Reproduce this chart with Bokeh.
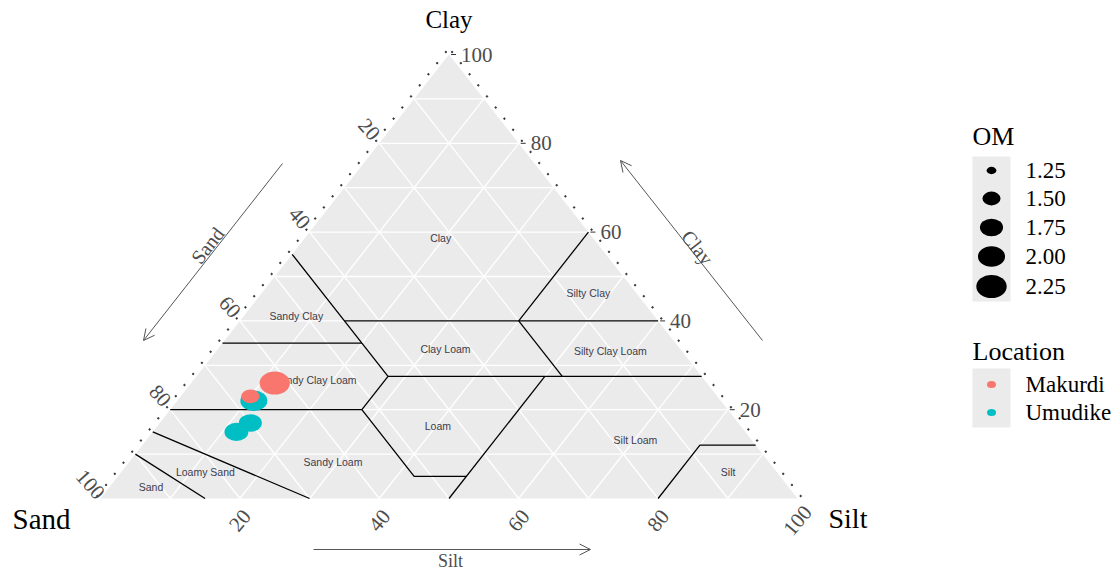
import numpy as np
from bokeh.plotting import figure
from bokeh.models import Range1d, ColumnDataSource, Arrow, OpenHead
from bokeh.core.properties import value
from bokeh.embed import file_html
from bokeh.resources import INLINE

# ---------------- data ----------------
location = ["Umudike", "Umudike", "Umudike", "Makurdi", "Makurdi"]
sand = [67, 73, 70, 62, 67]
silt = [11, 12, 13, 12, 10]
clay = [22, 15, 17, 26, 23]
om = [2.00, 1.80, 1.75, 2.25, 1.50]

om_breaks = [1.25, 1.50, 1.75, 2.00, 2.25]
om_labels = ["1.25", "1.50", "1.75", "2.00", "2.25"]
locations = ["Makurdi", "Umudike"]
loc_colors = ["#F8766D", "#00BFC4"]

axis_ticks = [20, 40, 60, 80, 100]
axis_tick_labels = ["20", "40", "60", "80", "100"]
grid_breaks = [10, 20, 30, 40, 50, 60, 70, 80, 90]

# USDA texture classes: label positions (silt, clay) in percent
class_names = ["Clay", "Silty Clay", "Sandy Clay", "Clay Loam", "Silty Clay Loam",
               "Sandy Clay Loam", "Loam", "Silt Loam", "Sandy Loam", "Loamy Sand",
               "Sand", "Silt"]
class_label_silt = [19.5, 46.9, 7.6, 32.7, 56.5, 17.4, 40.2, 70.2, 29.2, 12.1, 6.0, 87.1]
class_label_clay = [58.6, 46.2, 41.0, 33.6, 33.3, 26.8, 16.4, 13.1, 8.3, 5.9, 2.5, 5.9]

# class boundaries as (sand, silt, clay) polylines
boundaries = [
    [(45, 0, 55), (45, 15, 40), (45, 20, 35), (45, 27.5, 27.5)],
    [(45, 15, 40), (0, 60, 40)],
    [(20, 40, 40), (0, 40, 60)],
    [(20, 40, 40), (20, 52.5, 27.5)],
    [(65, 0, 35), (45, 20, 35)],
    [(45, 27.5, 27.5), (0, 72.5, 27.5)],
    [(45, 27.5, 27.5), (52.5, 27.5, 20)],
    [(80, 0, 20), (52.5, 27.5, 20)],
    [(52.5, 27.5, 20), (52.5, 42.5, 5), (45, 50, 5)],
    [(50, 50, 0), (22.5, 50, 27.5)],
    [(85, 0, 15), (70, 30, 0)],
    [(90, 0, 10), (85, 15, 0)],
    [(20, 80, 0), (8, 80, 12), (0, 88, 12)],
]

# ---------------- layout (pixels) ----------------
W, H = 1120, 571
PX0, PX1 = 100.0, 797.0     # sand corner x, silt corner x
PYB, PYT = 498.0, 54.0      # base y, apex y
SX = (PX1 - PX0) / 100.0
SY = (PYB - PYT) / 100.0


def tx(si, c):
    return si + c / 2.0


def ty(c):
    return c


def px2x(px):
    return (px - PX0) / SX


def py2y(py):
    return (PYB - py) / SY


p = figure(width=W, height=H, x_range=Range1d(px2x(0), px2x(W)),
           y_range=Range1d(py2y(H), py2y(0)), output_backend="svg",
           toolbar_location=None, x_axis_type=None, y_axis_type=None,
           min_border=0)
p.outline_line_color = None
p.background_fill_color = "white"
p.border_fill_color = "white"
p.grid.visible = False

# triangle background
p.patch(x=[tx(0, 0), tx(100, 0), tx(0, 100)], y=[ty(0), ty(0), ty(100)],
        fill_color="#EBEBEB", line_color=None)

# grid lines
gx, gy = [], []
for v in grid_breaks:
    for a, b in [((100 - v, 0, v), (0, 100 - v, v)),
                 ((100 - v, v, 0), (0, v, 100 - v)),
                 ((v, 100 - v, 0), (v, 0, 100 - v))]:
        gx.append([tx(a[1], a[2]), tx(b[1], b[2])])
        gy.append([ty(a[2]), ty(b[2])])
p.multi_line(xs=gx, ys=gy, line_color="white", line_width=1.3)

# class boundaries
bx = [[tx(pt[1], pt[2]) for pt in line] for line in boundaries]
by = [[ty(pt[2]) for pt in line] for line in boundaries]
p.multi_line(xs=bx, ys=by, line_color="black", line_width=1.3)

# class labels
p.text(x=[tx(s, c) for s, c in zip(class_label_silt, class_label_clay)],
       y=[ty(c) for c in class_label_clay], text=class_names,
       text_font=value("Liberation Sans"), text_font_size="10.5px",
       text_color="#3c3c4c", text_align="center", text_baseline="middle")

# tick dots along edges
ln = np.hypot((PX1 - PX0) / 2, PYB - PYT)
ux, uy = ((PX1 - PX0) / 2) / ln, (PYB - PYT) / ln
dots_x, dots_y = [], []
for t in np.arange(0, 100.01, 2.5):
    c = 100 - t
    dots_x.append(tx(0, c) + (-uy * 4) / SX)
    dots_y.append(ty(c) + (ux * 4) / SY)
    dots_x.append(tx(100 - t, t) + (uy * 4) / SX)
    dots_y.append(ty(t) + (ux * 4) / SY)
p.scatter(x=dots_x, y=dots_y, size=1.5, color="#333333", marker="circle")

# right edge major ticks (clay)
p.segment(x0=[tx(100 - v, v) + 2 / SX for v in axis_ticks],
          x1=[tx(100 - v, v) + 7 / SX for v in axis_ticks],
          y0=[ty(v) for v in axis_ticks], y1=[ty(v) for v in axis_ticks],
          line_color="#333333", line_width=1)

tick_font = value("Liberation Serif")
# clay labels (right edge)
p.text(x=[tx(100 - v, v) for v in axis_ticks], y=[ty(v) for v in axis_ticks],
       text=axis_tick_labels, x_offset=12, text_font=tick_font,
       text_font_size="21px", text_color="#4D4D4D", text_align="left",
       text_baseline="middle")
# sand labels (left edge)
p.text(x=[tx(0, 100 - v) for v in axis_ticks], y=[ty(100 - v) for v in axis_ticks],
       text=axis_tick_labels, x_offset=-10, y_offset=-14, angle=-0.85,
       text_font=tick_font, text_font_size="21px", text_color="#4D4D4D",
       text_align="center", text_baseline="middle")
# silt labels (bottom)
p.text(x=[tx(v, 0) for v in axis_ticks], y=[ty(0) for v in axis_ticks],
       text=axis_tick_labels, y_offset=22, angle=0.87,
       text_font=tick_font, text_font_size="21px", text_color="#4D4D4D",
       text_align="center", text_baseline="middle")

# axis titles
p.text(x=[tx(0, 100)], y=[py2y(19)], text=["Clay"], text_font=tick_font,
       text_font_size="25px", text_color="black", text_align="center",
       text_baseline="middle")
p.text(x=[px2x(12)], y=[py2y(518)], text=["Sand"], text_font=tick_font,
       text_font_size="29px", text_color="black", text_align="left",
       text_baseline="middle")
p.text(x=[px2x(828)], y=[py2y(518)], text=["Silt"], text_font=tick_font,
       text_font_size="28px", text_color="black", text_align="left",
       text_baseline="middle")

# direction arrows
arrow_col = "#555555"
for (x0, y0, x1, y1) in [(282, 163, 143, 340), (762, 340, 620, 160), (313, 549, 590, 549)]:
    p.add_layout(Arrow(end=OpenHead(size=11, line_color=arrow_col, line_width=1),
                       x_start=px2x(x0), y_start=py2y(y0), x_end=px2x(x1), y_end=py2y(y1),
                       line_color=arrow_col, line_width=1))
p.text(x=[px2x(207), px2x(697)], y=[py2y(245), py2y(247)],
       text=["Sand", "Clay"], angle=[0.906, -0.906],
       text_font=tick_font, text_font_size="20px", text_color="#4D4D4D",
       text_align="center", text_baseline="middle")
p.text(x=[px2x(450)], y=[py2y(560)], text=["Silt"],
       text_font=tick_font, text_font_size="18px", text_color="#4D4D4D",
       text_align="center", text_baseline="middle")


# data points
def size_px(v):
    return 4 + 27 * np.sqrt(max(v - 1.2, 0) / 1.1)


for loc, col in zip(["Umudike", "Makurdi"], ["#00BFC4", "#F8766D"]):
    idx = [i for i, l in enumerate(location) if l == loc]
    src = ColumnDataSource(dict(
        x=[tx(silt[i], clay[i]) for i in idx],
        y=[ty(clay[i]) for i in idx],
        w=[size_px(om[i]) for i in idx],
        h=[0.76 * size_px(om[i]) for i in idx]))
    p.ellipse(x="x", y="y", width="w", height="h", width_units="screen",
              height_units="screen", source=src, fill_color=col, line_color=None)

# ---------------- legends ----------------
p.text(x=[px2x(972)], y=[py2y(136)], text=["OM"], text_font=tick_font,
       text_font_size="26px", text_color="black", text_align="left",
       text_baseline="middle")
p.quad(left=[px2x(972)], right=[px2x(1010)], top=[py2y(156)], bottom=[py2y(301)],
       fill_color="#EBEBEB", line_color=None)
om_key_y = [170, 198, 227, 256, 286]
p.ellipse(x=[px2x(991)] * len(om_breaks), y=[py2y(v) for v in om_key_y],
          width=[size_px(v) for v in om_breaks],
          height=[0.76 * size_px(v) for v in om_breaks],
          width_units="screen", height_units="screen", fill_color="black",
          line_color=None)
p.text(x=[px2x(1025)] * len(om_labels), y=[py2y(v) for v in om_key_y],
       text=om_labels, text_font=tick_font, text_font_size="23px",
       text_color="black", text_align="left", text_baseline="middle")

p.text(x=[px2x(972)], y=[py2y(351)], text=["Location"], text_font=tick_font,
       text_font_size="26px", text_color="black", text_align="left",
       text_baseline="middle")
p.quad(left=[px2x(972)], right=[px2x(1010)], top=[py2y(368)], bottom=[py2y(427)],
       fill_color="#EBEBEB", line_color=None)
loc_key_y = [384, 412]
p.ellipse(x=[px2x(991)] * 2, y=[py2y(v) for v in loc_key_y], width=9, height=7,
          width_units="screen", height_units="screen", fill_color=loc_colors,
          line_color=None)
p.text(x=[px2x(1025)] * 2, y=[py2y(v) for v in loc_key_y], text=locations,
       text_font=tick_font, text_font_size="23px", text_color="black",
       text_align="left", text_baseline="middle")

open("out.html", "w").write(file_html(p, INLINE))
